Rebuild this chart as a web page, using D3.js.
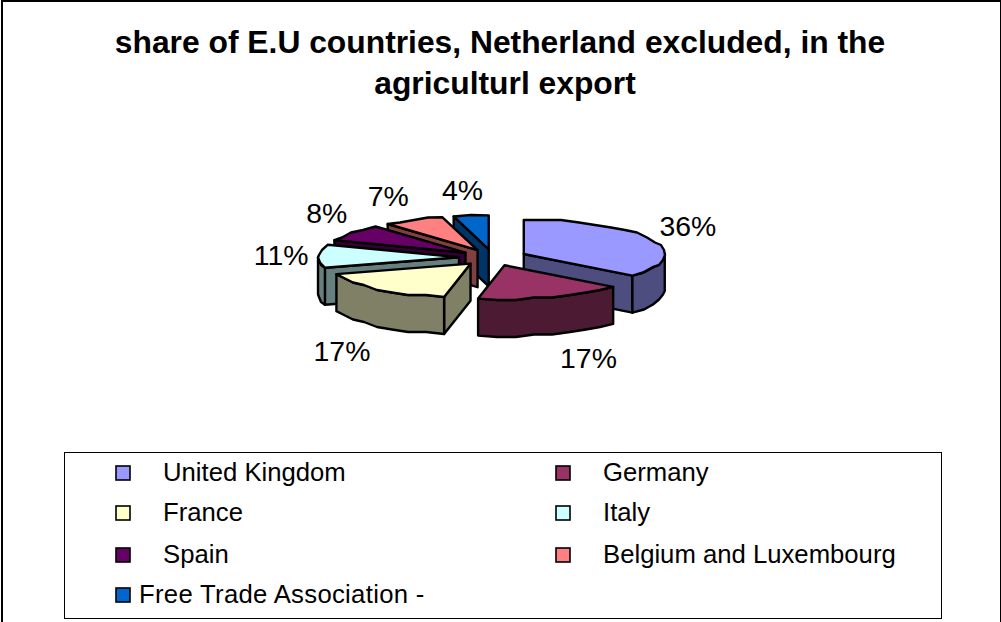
<!DOCTYPE html>
<html>
<head>
<meta charset="utf-8">
<script src="https://cdn.jsdelivr.net/npm/d3@7"></script>
<style>
html,body{margin:0;padding:0;background:#fff;}
svg{display:block;}
text{font-family:"Liberation Sans",Arial,sans-serif;fill:#000;}
</style>
</head>
<body>
<svg id="chart" width="1001" height="622"></svg>
<script>
const titleLines = ["share of E.U countries, Netherland excluded, in the", "agriculturl export"];
const countries = ["United Kingdom", "Germany", "France", "Italy", "Spain", "Belgium and Luxembourg", "Free Trade Association -"];
const shares = [36, 17, 17, 11, 8, 7, 4];
const topColors = ["#9999FF", "#993366", "#FFFFCC", "#CCFFFF", "#660066", "#FF8080", "#0066CC"];
const sideColors = ["#4D4D80", "#4D1A33", "#808066", "#668080", "#330033", "#804040", "#003366"];

// Tilted pie geometry
const W = 1001, H = 622;
const cx = 493, cy = 257.5, rx = 141, ry = 34, depth = 37, explode = 34;
const squash = ry / rx;
const labelNudge = [[4,-4],[24,3],[-11.5,8],[-1,0],[4.5,-7],[-9,-4],[-4,-4]];

const svg = d3.select("#chart");

// Chart frame: the bottom edge runs off the page
svg.append("rect").attr("x", 2).attr("y", 1).attr("width", W - 2).attr("height", H + 6)
  .attr("fill", "#fff").attr("stroke", "#000").attr("stroke-width", 2);

svg.selectAll("text.title").data(titleLines).join("text")
  .attr("class", "title")
  .attr("x", (d, i) => i ? 505 : 500).attr("y", (d, i) => 53 + i * 41)
  .attr("text-anchor", "middle")
  .attr("font-size", 31.8).attr("font-weight", "bold")
  .text(d => d);

const arcs = d3.pie().sort(null).value(d => d.share).startAngle(0).endAngle(2 * Math.PI)(
  countries.map((name, i) => ({ name, share: shares[i], top: topColors[i], side: sideColors[i], i }))
);

// Project an angle (clockwise from north) and radius fraction from a slice's apex
const project = (apex, a, r = 1) => [apex[0] + r * rx * Math.sin(a), apex[1] - r * ry * Math.cos(a)];
const down = p => [p[0], p[1] + depth];
const line = d3.line();

// The outline is sampled coarsely and snapped to a grid, giving the faceted rim of the drawing
function rim(apex, a0, a1) {
  const n = Math.max(2, Math.ceil((a1 - a0) / 0.14));
  return d3.range(n + 1).map(k => {
    const a = a0 + (a1 - a0) * k / n;
    const p = project(apex, a);
    return (k === 0 || k === n) ? p : [Math.round(p[0]), Math.round(p[1] / 2.5) * 2.5];
  });
}

arcs.forEach(d => {
  d.mid = (d.startAngle + d.endAngle) / 2;
  d.apex = [cx + explode * Math.sin(d.mid), cy - explode * squash * Math.cos(d.mid)];
});

// Painter's order: the slices nearest the viewer go last
const order = arcs.slice().sort((a, b) => Math.abs(b.mid - Math.PI) - Math.abs(a.mid - Math.PI));

const pieG = svg.append("g");
function face(g, pts, fill) {
  g.append("path").attr("d", line(pts) + "Z").attr("fill", fill)
    .attr("stroke", "#000").attr("stroke-width", 2.4).attr("stroke-linejoin", "round");
}

order.forEach(d => {
  const g = pieG.append("g");
  const a0 = d.startAngle, a1 = d.endAngle;
  if (a0 > Math.PI && a0 < 2 * Math.PI) {
    const e = project(d.apex, a0);
    face(g, [d.apex, e, down(e), down(d.apex)], d.data.side);
  }
  if (a1 > 0 && a1 < Math.PI) {
    const e = project(d.apex, a1);
    face(g, [d.apex, e, down(e), down(d.apex)], d.data.side);
  }
  const f0 = Math.max(a0, Math.PI / 2), f1 = Math.min(a1, 3 * Math.PI / 2);
  if (f1 > f0) {
    const edge = rim(d.apex, f0, f1);
    face(g, edge.concat(edge.slice().reverse().map(down)), d.data.side);
  }
  face(g, [d.apex].concat(rim(d.apex, a0, a1)), d.data.top);
});

svg.selectAll("text.pct").data(arcs).join("text")
  .attr("class", "pct")
  .attr("x", (d, i) => d.apex[0] + (rx + 36) * Math.sin(d.mid) + labelNudge[i][0])
  .attr("y", (d, i) => d.apex[1] - (ry + 22) * Math.cos(d.mid) + (Math.cos(d.mid) < -0.5 ? depth : 0) + labelNudge[i][1])
  .attr("text-anchor", "middle").attr("dominant-baseline", "central")
  .attr("font-size", 28.4)
  .text(d => d.data.share + "%");

// Legend
svg.append("rect").attr("x", 64.5).attr("y", 452.5).attr("width", 877).attr("height", 166)
  .attr("fill", "#fff").attr("stroke", "#000").attr("stroke-width", 1);

const colX = d3.scaleOrdinal().domain([0, 1]).range([123, 563]);
const rowY = d3.scaleOrdinal().domain([0, 1, 2, 3]).range([473, 513, 555, 595]);
const leg = svg.selectAll("g.leg").data(arcs).join("g").attr("class", "leg")
  .attr("transform", (d, i) => `translate(${colX(i % 2)},${rowY(Math.floor(i / 2))})`);
leg.append("rect").attr("x", -7).attr("y", -7).attr("width", 14).attr("height", 14)
  .attr("fill", d => d.data.top).attr("stroke", "#000").attr("stroke-width", 1.6);
leg.append("text")
  .attr("x", (d, i) => i === 6 ? 16 : 40).attr("y", 8)
  .attr("font-size", 25.7)
  .attr("letter-spacing", (d, i) => i === 6 ? 0.3 : null)
  .text(d => d.data.name);
</script>
</body>
</html>
